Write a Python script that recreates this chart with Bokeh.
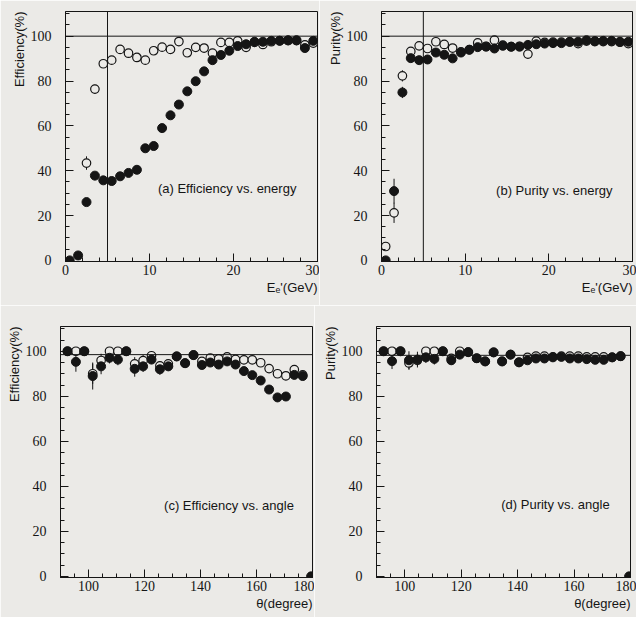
from bokeh.plotting import figure
from bokeh.layouts import column, row
from bokeh.models import Range1d, SingleIntervalTicker, Span, Label, Title
from bokeh.embed import file_html
from bokeh.resources import INLINE

nan = float("nan")

# ---- data ----
energy = [0.5, 1.5, 2.5, 3.5, 4.5, 5.5, 6.5, 7.5, 8.5, 9.5,
          10.5, 11.5, 12.5, 13.5, 14.5, 15.5, 16.5, 17.5, 18.5, 19.5,
          20.5, 21.5, 22.5, 23.5, 24.5, 25.5, 26.5, 27.5, 28.5, 29.5]
eff_e_filled = [0, 2.2, 26, 37.8, 35.7, 35.4, 37.5, 39, 40.4, 50,
                51, 59, 64.7, 69.5, 75.4, 79.9, 84.3, 89.3, 91.6, 93.5,
                95.6, 96.4, 97.5, 97.5, 97.9, 97.9, 98.2, 98.2, 94.7, 97.9]
eff_e_filled_err = [0.5, 1, 1.5, 1.5, 1.5, 1.5, 1.5, 1.5, 1.5, 1.5,
                    1.5, 1.5, 1.5, 1.5, 1.2, 1.2, 1, 1, 1, 1,
                    0.8, 0.8, 0.8, 0.8, 0.8, 0.8, 0.8, 0.8, 1, 0.8]
eff_e_open = [nan, nan, 43.4, 76.4, 87.7, 89.3, 94.1, 92.4, 90.5, 89.3,
              93.5, 95.1, 94.1, 97.6, 92.6, 95.0, 94.7, 92.4, 97.2, 97.2,
              97.9, 95.0, 97.2, 96.3, 97.5, 98.0, 98.0, 98.0, 96.1, 96.9]
eff_e_open_err = [0, 0, 3, 2, 1.5, 1.5, 1.2, 1.2, 1.2, 1.2,
                  1, 1, 1, 1, 1, 1, 1, 1, 1, 1,
                  0.8, 0.8, 0.8, 0.8, 0.8, 0.8, 0.8, 0.8, 1, 0.8]

pur_e_filled = [0, 30.9, 74.9, 90.2, 89.3, 89.6, 92.7, 91.7, 90.1, 92.7,
                93.9, 95.1, 95.3, 94.5, 95.7, 95.3, 95.3, 96.1, 96.4, 96.7,
                96.9, 96.9, 97.5, 97.5, 98.2, 97.8, 97.9, 97.9, 97.5, 97.5]
pur_e_filled_err = [0.5, 5.5, 2.5, 1.2, 1.2, 1.2, 1, 1, 1, 1,
                    1, 1, 1, 1, 1, 1, 1, 1, 1, 1,
                    0.8, 0.8, 0.8, 0.8, 0.8, 0.8, 0.8, 0.8, 0.8, 0.8]
pur_e_open = [6.2, 21.2, 82.3, 93.2, 95.7, 94.5, 97.5, 96.3, 94.7, 93.0,
              94.0, 97.0, 95.5, 98.2, 96.0, 95.3, 95.5, 92.0, 97.8, 97.2,
              97.3, 97.3, 97.4, 96.7, 97.8, 97.6, 97.6, 97.6, 97.3, 96.7]
pur_e_open_err = [2, 4.5, 2.5, 1.2, 1, 1, 1, 1, 1, 1,
                  1, 1, 1, 1, 1, 1, 1, 1.5, 1, 1,
                  0.8, 0.8, 0.8, 0.8, 0.8, 0.8, 0.8, 0.8, 0.8, 0.8]

angle = [92.5, 95.5, 98.5, 101.5, 104.5, 107.5, 110.5, 113.5, 116.5, 119.5,
         122.5, 125.5, 128.5, 131.5, 134.5, 137.5, 140.5, 143.5, 146.5, 149.5,
         152.5, 155.5, 158.5, 161.5, 164.5, 167.5, 170.5, 173.5, 176.5, 179.5]
eff_a_filled = [100, 95.3, 100, 89, 93.3, 97.1, 96.3, 100, 92.2, 93.3,
                96.3, 92, 93.3, 97.7, 94.7, 98.3, 93.9, 95.0, 94.1, 95.5,
                94.1, 91.2, 89.4, 87.0, 83, 79.5, 79.9, 89.5, 89.0, 0]
eff_a_filled_err = [0.5, 4.4, 0.5, 6, 3.5, 2.5, 2.5, 0.5, 3.5, 2.5,
                    2, 2.5, 2, 1.5, 1.5, 1.2, 1.2, 1, 1, 1,
                    1, 1, 1, 1, 1, 1, 1, 1.5, 1.5, 0]
eff_a_open = [100, 100, 100, 90, 95.9, 100, 100, 100, 94.4, 95.8,
              98, 93.5, 94.4, 97.7, 94.7, 98.3, 95.5, 97, 96.6, 97.5,
              96.4, 96.2, 96.2, 94.9, 92.3, 90, 89.1, 91.8, 89.5, nan]
eff_a_open_err = [0, 1.5, 0, 4.5, 3, 1.5, 1.5, 0, 3, 2.5,
                  1.5, 2, 2, 1, 1, 1, 1, 1, 1, 1,
                  1, 1, 1, 1, 1, 1, 1, 1.5, 1.5, 0]

pur_a_filled = [100, 95.6, 100, 96.0, 96.3, 97.3, 96.6, 100, 96.0, 98.5,
                99.6, 96.9, 95.5, 99.5, 95.5, 98.5, 95.1, 96.0, 96.8, 96.8,
                97.3, 97.5, 96.8, 96.8, 96.5, 96.2, 96.2, 97.3, 97.8, 0]
pur_a_filled_err = [0.3, 3.5, 0.3, 4, 3.5, 2.5, 2.5, 0.3, 2, 1.5,
                    1, 1, 1, 1, 1, 1, 1, 1, 1, 1,
                    1, 1, 1, 1, 1, 1, 1, 1, 1, 0]
pur_a_open = [100, 100, 100, 94.8, 96.0, 100, 100, 100, 96.8, 100,
              99.6, 96.9, 95.5, 99.5, 95.5, 98.5, 95.1, 97.3, 97.8, 97.8,
              97.5, 97.8, 97.8, 97.8, 97.5, 97.5, 97.5, 97.3, 97.8, nan]
pur_a_open_err = [0, 1, 0, 3, 2.5, 1, 1, 0, 2, 1,
                  1, 1, 1, 1, 1, 1, 1, 1, 1, 1,
                  1, 1, 1, 1, 1, 1, 1, 1, 1, 0]

BG = "#ebeae7"
INK = "#151515"


def panel(x, yf, ef, yo, eo, xr, xint, xminor, hline, vline,
          note, nx, ny, xlabel, ylabel, w, h, bl, br, bt, bb):
    p = figure(width=w, height=h, x_range=Range1d(*xr), y_range=Range1d(-0.5, 111),
               output_backend="svg", toolbar_location=None,
               min_border_left=bl, min_border_right=br,
               min_border_top=bt, min_border_bottom=bb)
    p.background_fill_color = BG
    p.border_fill_color = BG
    p.grid.visible = False
    p.outline_line_color = INK
    p.outline_line_alpha = 1
    p.outline_line_width = 1
    p.xaxis.ticker = SingleIntervalTicker(interval=xint, num_minor_ticks=xminor)
    p.yaxis.ticker = SingleIntervalTicker(interval=20, num_minor_ticks=4)
    for ax in (p.xaxis[0], p.yaxis[0]):
        ax.major_tick_in = 8
        ax.major_tick_out = 0
        ax.minor_tick_in = 4
        ax.minor_tick_out = 0
        ax.axis_line_color = INK
        ax.major_tick_line_color = INK
        ax.minor_tick_line_color = INK
        ax.major_label_text_font = "Liberation Serif"
        ax.major_label_text_font_size = "14px"
        ax.major_label_text_color = INK
    p.yaxis.major_label_standoff = 14
    p.xaxis.major_label_standoff = 3

    p.add_layout(Span(location=hline, dimension="width", line_color=INK, line_width=1))
    if vline is not None:
        p.add_layout(Span(location=vline, dimension="height", line_color=INK, line_width=1))

    xs = list(x)
    p.segment(x0=xs, y0=[a - b for a, b in zip(yo, eo)], x1=xs,
              y1=[a + b for a, b in zip(yo, eo)], line_color=INK, line_width=1)
    p.segment(x0=xs, y0=[a - b for a, b in zip(yf, ef)], x1=xs,
              y1=[a + b for a, b in zip(yf, ef)], line_color=INK, line_width=1)
    p.scatter(xs, yo, size=8.5, marker="circle", fill_color=BG, line_color=INK, line_width=1.2)
    p.scatter(xs, yf, size=9, marker="circle", fill_color=INK, line_color=INK)

    p.add_layout(Label(x=nx, y=ny, text=note, text_font="Liberation Sans",
                       text_font_size="13px", text_color=INK, text_baseline="middle"))
    p.add_layout(Title(text=ylabel, align="right", text_font="Liberation Sans",
                       text_font_size="13px", text_font_style="normal",
                       text_color=INK, standoff=2), "left")
    p.add_layout(Title(text=xlabel, align="right", text_font="Liberation Sans",
                       text_font_size="13px", text_font_style="normal",
                       text_color=INK, standoff=1), "below")
    return p


pa = panel(energy, eff_e_filled, eff_e_filled_err, eff_e_open, eff_e_open_err,
           (0, 30), 10, 5, 100, 5, "(a) Efficiency vs. energy", 11, 32,
           "E\u2091'(GeV)", "Efficiency(%)", 319, 305, 65, 2, 11, 44)
pb = panel(energy, pur_e_filled, pur_e_filled_err, pur_e_open, pur_e_open_err,
           (0, 30), 10, 5, 100, 5, "(b) Purity vs. energy", 13.7, 31,
           "E\u2091'(GeV)", "Purity(%)", 317, 305, 62, 4, 11, 44)
pc = panel(angle, eff_a_filled, eff_a_filled_err, eff_a_open, eff_a_open_err,
           (90, 180), 20, 4, 98.5, None, "(c) Efficiency vs. angle", 127, 31.4,
           "\u03b8(degree)", "Efficiency(%)", 314, 312, 60, 2, 21, 40)
pd = panel(angle, pur_a_filled, pur_a_filled_err, pur_a_open, pur_a_open_err,
           (90, 180), 20, 4, 98.2, None, "(d) Purity vs. angle", 134.2, 32,
           "\u03b8(degree)", "Purity(%)", 322, 312, 62, 6, 21, 40)

layout = column(row(pa, pb, spacing=0), row(pc, pd, spacing=0), spacing=0)

open("out.html", "w").write(file_html(layout, INLINE))
